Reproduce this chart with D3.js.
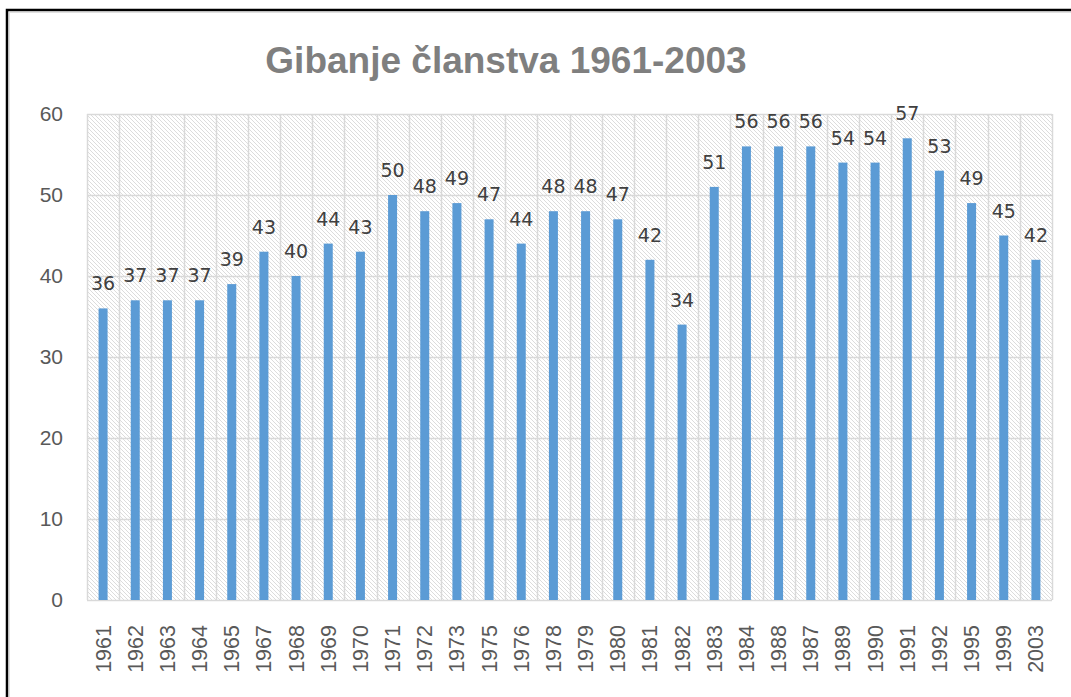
<!DOCTYPE html>
<html>
<head>
<meta charset="utf-8">
<script src="https://cdn.jsdelivr.net/npm/d3@7"></script>
<style>
  body { margin: 0; background: #fff; }
</style>
</head>
<body>
<div id="chart"></div>
<script>
// data
var years = ["1961","1962","1963","1964","1965","1967","1968","1969","1970","1971",
             "1972","1973","1975","1976","1978","1979","1980","1981","1982","1983",
             "1984","1988","1987","1989","1990","1991","1992","1995","1999","2003"];
var members = [36,37,37,37,39,43,40,44,43,50,48,49,47,44,48,48,47,42,34,51,
               56,56,56,54,54,57,53,49,45,42];
var yTicks = [0,10,20,30,40,50,60];
var title = "Gibanje članstva 1961-2003";

var W = 1071, H = 697;
var plot = {left: 87, top: 114, right: 1052, bottom: 600};

var svg = d3.select("#chart").append("svg")
    .attr("width", W)
    .attr("height", H);

// hatch pattern for plot background
var pat = svg.append("defs").append("pattern")
    .attr("id", "hatch")
    .attr("patternUnits", "userSpaceOnUse")
    .attr("width", 4)
    .attr("height", 4);
pat.append("path")
    .attr("d", "M-1,3 L1,5 M0,0 L4,4 M3,-1 L5,1")
    .style("stroke", "#dcdcdc")
    .style("stroke-width", 1);

// outer frame (cropped on right and bottom)
svg.append("rect")
    .attr("x", 7).attr("y", 10)
    .attr("width", W + 20).attr("height", H + 20)
    .style("fill", "#fff")
    .style("stroke", "#000")
    .style("stroke-width", 2.5);
svg.append("rect")
    .attr("x", 9.5).attr("y", 12.5)
    .attr("width", W + 20).attr("height", H + 20)
    .style("fill", "none")
    .style("stroke", "#e0e0e0")
    .style("stroke-width", 1);

var x = d3.scaleBand()
    .domain(years)
    .range([plot.left, plot.right])
    .paddingInner(0.72)
    .paddingOuter(0.36);

var y = d3.scaleLinear()
    .domain([0, 60])
    .range([plot.bottom, plot.top]);

// background
svg.append("rect")
    .attr("x", plot.left).attr("y", plot.top)
    .attr("width", plot.right - plot.left)
    .attr("height", plot.bottom - plot.top)
    .style("fill", "url(#hatch)");

// grid
var step = (plot.right - plot.left) / years.length;
svg.append("g").selectAll("line.v")
    .data(d3.range(years.length + 1))
    .join("line")
    .attr("x1", function(i){ return Math.round(plot.left + i * step) + 0.5; })
    .attr("x2", function(i){ return Math.round(plot.left + i * step) + 0.5; })
    .attr("y1", plot.top).attr("y2", plot.bottom)
    .style("stroke", "#d9d9d9")
    .style("stroke-width", 1.5);

svg.append("g").selectAll("line.h")
    .data(yTicks)
    .join("line")
    .attr("x1", plot.left).attr("x2", plot.right)
    .attr("y1", function(d){ return Math.round(y(d)) + 0.5; })
    .attr("y2", function(d){ return Math.round(y(d)) + 0.5; })
    .style("stroke", "#d9d9d9")
    .style("stroke-width", 1.5);

// y axis
var yAxis = svg.append("g")
    .attr("transform", "translate(" + (plot.left - 24) + ",0)")
    .call(d3.axisLeft(y).tickValues(yTicks).tickSize(0).tickPadding(0));
yAxis.select(".domain").remove();
yAxis.selectAll("text")
    .style("font-family", "'Liberation Sans', Arial, sans-serif")
    .style("font-size", "21px")
    .style("fill", "#595959");

// x axis
var xAxis = svg.append("g")
    .attr("transform", "translate(0," + plot.bottom + ")")
    .call(d3.axisBottom(x).tickSize(0).tickPadding(0));
xAxis.select(".domain").remove();
xAxis.selectAll("text")
    .attr("transform", "rotate(-90)")
    .attr("x", -25)
    .attr("y", 0)
    .attr("dy", "0.35em")
    .style("text-anchor", "end")
    .style("font-family", "'Liberation Sans', Arial, sans-serif")
    .style("font-size", "21.5px")
    .style("fill", "#595959");

// bars
svg.append("g").selectAll("rect")
    .data(members)
    .join("rect")
    .attr("x", function(d, i){ return x(years[i]); })
    .attr("y", function(d){ return y(d); })
    .attr("width", x.bandwidth())
    .attr("height", function(d){ return y(0) - y(d); })
    .style("fill", "#5b9bd5");

// value labels
svg.append("g").selectAll("text")
    .data(members)
    .join("text")
    .attr("x", function(d, i){ return x(years[i]) + x.bandwidth() / 2; })
    .attr("y", function(d){ return y(d) - 18; })
    .attr("text-anchor", "middle")
    .style("font-family", "'DejaVu Sans', sans-serif")
    .style("font-size", "19px")
    .style("fill", "#404040")
    .text(function(d){ return d; });

// title
svg.append("text")
    .attr("x", 506)
    .attr("y", 73)
    .attr("text-anchor", "middle")
    .style("font-family", "'Liberation Sans', Arial, sans-serif")
    .style("font-weight", "bold")
    .style("font-size", "37px")
    .style("fill", "#7f7f7f")
    .text(title);
</script>
</body>
</html>
